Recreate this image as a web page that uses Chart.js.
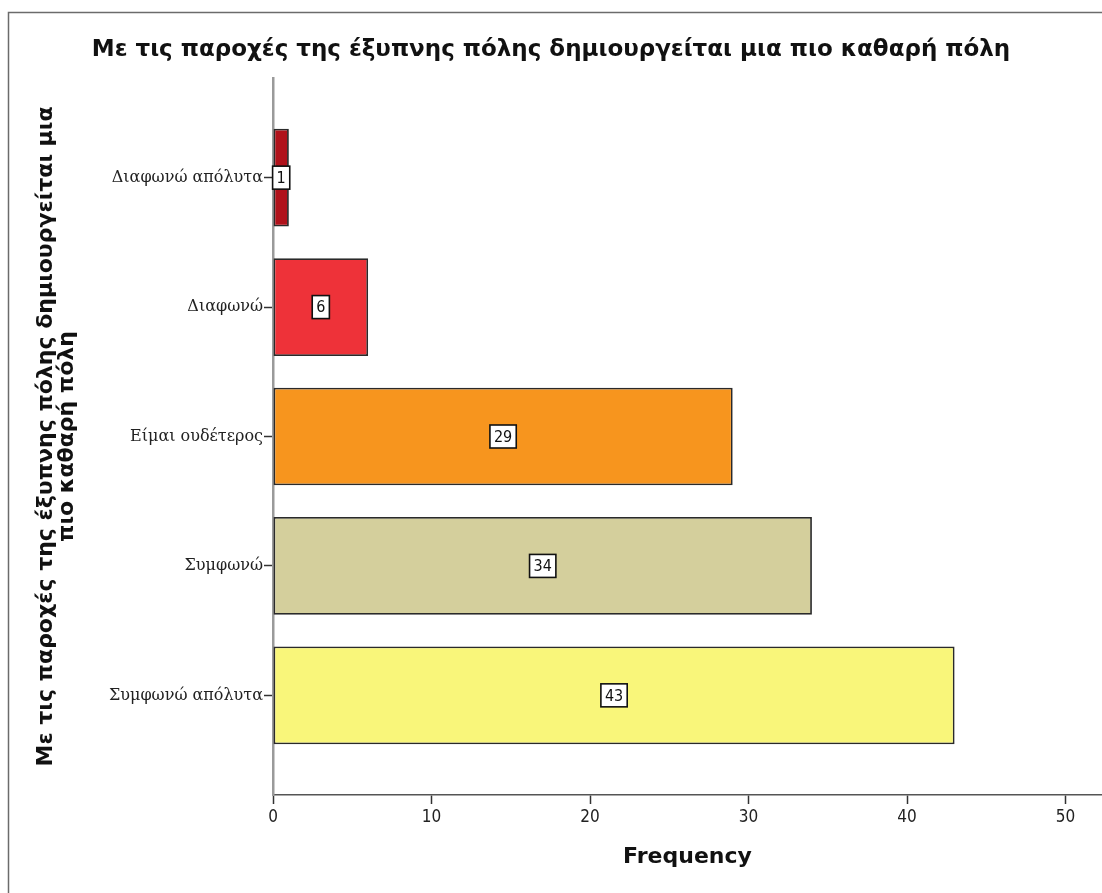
<!DOCTYPE html>
<html>
<head>
<meta charset="utf-8">
<script src="https://cdn.jsdelivr.net/npm/chart.js@4/dist/chart.umd.min.js"></script>
<style>
  html, body { margin: 0; padding: 0; background: #fff; }
  canvas { display: block; }
</style>
</head>
<body>
<canvas id="chart" width="1102" height="893"></canvas>
<script>
const categories = ['Διαφωνώ απόλυτα', 'Διαφωνώ', 'Είμαι ουδέτερος', 'Συμφωνώ', 'Συμφωνώ απόλυτα'];
const frequencies = [1, 6, 29, 34, 43];
const barColors = ['#b0121b', '#ee3239', '#f7951e', '#d4cf9c', '#f9f67a'];
const xTicks = [0, 10, 20, 30, 40, 50];

const chartTitle = 'Με τις παροχές της έξυπνης πόλης δημιουργείται μια πιο καθαρή πόλη';
const yTitle = ['Με τις παροχές της έξυπνης πόλης δημιουργείται μια', 'πιο καθαρή πόλη'];
const xTitle = 'Frequency';

// frame around the whole chart (only left and top edges are visible)
const framePlugin = {
  id: 'frame',
  beforeDraw(chart) {
    const ctx = chart.ctx;
    ctx.save();
    ctx.fillStyle = '#fff';
    ctx.fillRect(0, 0, chart.width, chart.height);
    ctx.strokeStyle = '#6b6b6b';
    ctx.lineWidth = 1.5;
    ctx.strokeRect(8.5, 12.5, 1200, 1000);
    ctx.restore();
  }
};

// white boxed value labels in the middle of each bar
const valueBoxes = {
  id: 'valueBoxes',
  afterDatasetsDraw(chart) {
    const ctx = chart.ctx;
    const meta = chart.getDatasetMeta(0);
    ctx.save();
    ctx.font = '16px "Liberation Sans Narrow", "DejaVu Sans Condensed", sans-serif';
    ctx.textAlign = 'center';
    ctx.textBaseline = 'middle';
    meta.data.forEach((bar, i) => {
      const { x, y, base } = bar.getProps(['x', 'y', 'base'], true);
      const cx = (x + base) / 2;
      const txt = String(frequencies[i]);
      const w = ctx.measureText(txt).width + 8;
      const h = 23;
      ctx.fillStyle = '#fff';
      ctx.fillRect(cx - w / 2, y - h / 2, w, h);
      ctx.strokeStyle = '#111';
      ctx.lineWidth = 1.6;
      ctx.strokeRect(cx - w / 2, y - h / 2, w, h);
      ctx.fillStyle = '#111';
      ctx.fillText(txt, cx, y + 1);
    });
    ctx.restore();
  }
};

const chart = new Chart(document.getElementById('chart'), {
  type: 'bar',
  plugins: [framePlugin, valueBoxes],
  data: {
    datasets: [{
      data: frequencies.map((v, i) => ({ x: v, y: i })),
      backgroundColor: barColors,
      borderColor: '#2a2a2a',
      borderWidth: 1.8,
      borderSkipped: false,
      barPercentage: 0.755,
      categoryPercentage: 1,
    }]
  },
  options: {
    indexAxis: 'y',
    responsive: false,
    animation: false,
    layout: { padding: 0 },
    plugins: {
      legend: { display: false },
      tooltip: { enabled: false },
      title: {
        display: true,
        text: chartTitle,
        color: '#111',
        font: { family: '"DejaVu Sans"', size: 23, weight: 'bold' },
        padding: { top: 36, bottom: 14.4 },
      },
    },
    scales: {
      x: {
        type: 'linear',
        min: 0,
        max: 52.3,
        afterBuildTicks: (scale) => {
          scale.ticks = xTicks.map(v => ({ value: v }));
        },
        afterFit: (scale) => {
          scale.height = 98;
          scale.paddingLeft = 0;
          scale.paddingRight = 0;
        },
        grid: {
          drawOnChartArea: false,
          drawTicks: true,
          tickLength: 9,
          tickColor: '#333',
          tickWidth: 1.5,
        },
        border: { display: true, color: '#555', width: 1.5 },
        ticks: {
          color: '#222',
          padding: 3,
          font: { family: '"Liberation Sans Narrow", "DejaVu Sans Condensed", sans-serif', size: 17 },
        },
        title: {
          display: true,
          text: xTitle,
          color: '#111',
          font: { family: '"DejaVu Sans"', size: 22, weight: 'bold' },
          padding: { top: 0, bottom: 23 },
        },
      },
      y: {
        type: 'linear',
        reverse: true,
        offset: false,
        min: -0.77,
        max: 4.77,
        afterBuildTicks: (scale) => {
          scale.ticks = categories.map((c, i) => ({ value: i }));
        },
        afterFit: (scale) => {
          scale.width = 273;
          scale.paddingTop = 0;
          scale.paddingBottom = 0;
        },
        grid: {
          offset: false,
          drawOnChartArea: false,
          drawTicks: true,
          tickLength: 9,
          tickColor: '#333',
          tickWidth: 1.5,
        },
        border: { display: true, color: '#9a9a9a', width: 2.5 },
        ticks: {
          color: '#222',
          padding: 1,
          autoSkip: false,
          font: { family: '"DejaVu Serif", serif', size: 16 },
          callback: (v) => categories[v],
        },
        title: {
          display: true,
          text: yTitle,
          color: '#111',
          font: { family: '"DejaVu Sans"', size: 22, weight: 'bold', lineHeight: 0.95 },
          padding: { top: 36, bottom: 0 },
        },
      },
    },
  },
});
</script>
</body>
</html>
